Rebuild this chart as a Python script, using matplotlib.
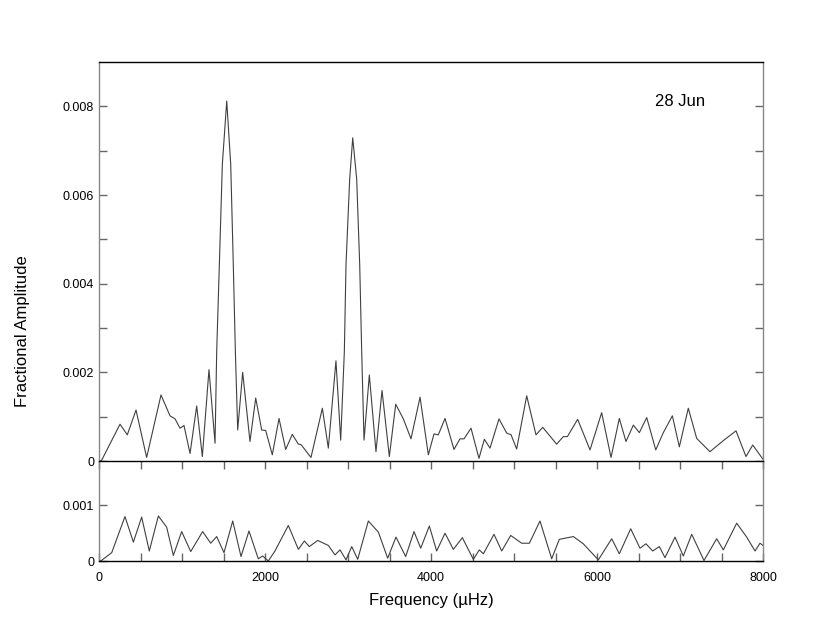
import matplotlib
matplotlib.use("Agg")
import matplotlib.pyplot as plt

plt.rcParams['font.family'] = ['Liberation Sans', 'DejaVu Sans']

# amplitude spectrum, 28 Jun
freq_top = [0, 30, 253, 341, 446, 574, 747, 855, 916, 976, 1024, 1097, 1177, 1245, 1325, 1398,
            1418, 1450, 1486, 1539, 1587, 1618, 1643, 1671, 1731, 1819, 1888, 1960, 2008, 2088,
            2169, 2249, 2329, 2402, 2434, 2554, 2691, 2763, 2855, 2912, 2956, 2976, 3020, 3057,
            3105, 3141, 3165, 3193, 3257, 3337, 3410, 3498, 3575, 3667, 3759, 3868, 3968, 4036,
            4088, 4169, 4277, 4349, 4398, 4482, 4578, 4643, 4711, 4819, 4912, 4965, 5032, 5153,
            5265, 5346, 5514, 5594, 5643, 5767, 5916, 6056, 6169, 6269, 6349, 6438, 6510, 6599,
            6708, 6799, 6908, 6992, 7100, 7201, 7361, 7522, 7675, 7795, 7876, 8000]
amp_top = [0.0, 0.00001, 0.00083, 0.00059, 0.00115, 0.00008, 0.00149, 0.00102, 0.00095, 0.00074,
           0.0008, 0.00017, 0.00124, 0.0001, 0.00206, 0.0004, 0.00247, 0.00443, 0.00669, 0.00812,
           0.00669, 0.00443, 0.00247, 0.0007, 0.002, 0.00044, 0.00142, 0.0007, 0.00069, 0.00014,
           0.00096, 0.00026, 0.0006, 0.00038, 0.00037, 0.00008, 0.00119, 0.00029, 0.00226, 0.00047,
           0.00247, 0.00443, 0.00635, 0.00729, 0.00635, 0.00443, 0.00247, 0.00047, 0.00194, 0.00021,
           0.00159, 0.0001, 0.00128, 0.00095, 0.0005, 0.00144, 0.00014, 0.00061, 0.00059, 0.00096,
           0.00026, 0.0005, 0.0005, 0.00074, 0.00006, 0.00049, 0.00029, 0.00095, 0.00063, 0.00059,
           0.00027, 0.00147, 0.00059, 0.00076, 0.00038, 0.00055, 0.00055, 0.00094, 0.00025, 0.00109,
           0.00008, 0.00096, 0.00044, 0.00081, 0.00064, 0.00098, 0.00025, 0.00064, 0.00102, 0.00032,
           0.00119, 0.00051, 0.00021, 0.00046, 0.00068, 0.0001, 0.00036, 0.00004]

# residual spectrum after prewhitening
freq_bot = [0, 30, 153, 313, 414, 514, 606, 715, 815, 896, 996, 1105, 1249, 1346, 1418, 1506,
            1611, 1711, 1807, 1919, 1972, 2040, 2120, 2281, 2402, 2474, 2534, 2635, 2763, 2843,
            2904, 2976, 3045, 3117, 3245, 3366, 3478, 3578, 3695, 3795, 3876, 3980, 4068, 4169,
            4269, 4378, 4510, 4582, 4631, 4759, 4852, 4960, 5093, 5185, 5313, 5454, 5546, 5715,
            5835, 6016, 6177, 6269, 6406, 6518, 6590, 6671, 6751, 6819, 6940, 7040, 7141, 7289,
            7442, 7522, 7683, 7804, 7904, 7964, 8000]
amp_bot = [0.0, 0.00001, 0.00015, 0.0008, 0.00034, 0.00079, 0.00018, 0.00081, 0.00061, 0.0001,
           0.00053, 0.00017, 0.00053, 0.00032, 0.00044, 0.00015, 0.00072, 0.00008, 0.00054, 0.00004,
           0.00009, 0.0, 0.00018, 0.00064, 0.00021, 0.00036, 0.00026, 0.00037, 0.00028, 0.00011,
           0.0002, 0.00002, 0.00026, 0.00003, 0.00072, 0.00052, 0.00005, 0.00043, 0.00008, 0.00053,
           0.00023, 0.00063, 0.00018, 0.0005, 0.00021, 0.00042, 0.00003, 0.0002, 0.00013, 0.00048,
           0.00018, 0.00046, 0.00032, 0.00032, 0.00072, 0.00004, 0.00039, 0.00044, 0.00031, 0.00002,
           0.0004, 0.00013, 0.00058, 0.00023, 0.00031, 0.00018, 0.00026, 0.00006, 0.00043, 0.00009,
           0.00048, 0.00001, 0.0004, 0.0002, 0.00068, 0.00043, 0.00018, 0.00032, 0.00028]

top_yticks = [0, 0.002, 0.004, 0.006, 0.008]
top_yticklabels = ['0', '0.002', '0.004', '0.006', '0.008']
top_yminor = [0.001, 0.003, 0.005, 0.007]
bot_yticks = [0, 0.001]
bot_yticklabels = ['0', '0.001']
xticks = [0, 2000, 4000, 6000, 8000]
xticklabels = ['0', '2000', '4000', '6000', '8000']
xminor = [500, 1000, 1500, 2500, 3000, 3500, 4500, 5000, 5500, 6500, 7000, 7500]

fig = plt.figure(figsize=(8.3, 6.23), dpi=100)
ax1 = fig.add_axes([99/830, 1-461/623, 664/830, 399/623])
ax2 = fig.add_axes([99/830, 1-561/623, 664/830, 100/623])

line_col = '#404040'
ax1.plot(freq_top, amp_top, color=line_col, lw=0.8, solid_joinstyle='round')
ax2.plot(freq_bot, amp_bot, color=line_col, lw=0.8, solid_joinstyle='round')

for ax in (ax1, ax2):
    ax.set_xlim(0, 8000)
    ax.spines['left'].set_color('#888888')
    ax.spines['right'].set_color('#888888')
    for s in ax.spines.values():
        s.set_linewidth(1.0)
    ax.tick_params(which='both', direction='in', length=6, width=1,
                   colors='#666666', labelcolor='black', labelsize=9,
                   left=True, right=True)

ax1.set_ylim(0, 0.009)
ax1.set_yticks(top_yticks, top_yticklabels)
ax1.set_yticks(top_yminor, minor=True)
ax1.set_xticks([])
ax1.spines['bottom'].set_visible(False)

ax2.set_ylim(0, 0.0018)
ax2.set_yticks(bot_yticks, bot_yticklabels)
ax2.set_xticks(xticks, xticklabels)
ax2.set_xticks(xminor, minor=True)
ax2.tick_params(axis='x', which='both', top=True, bottom=True, pad=8)

fig.text(22/830, 1-331/623, 'Fractional Amplitude', rotation=90, ha='center', va='center', fontsize=12)
fig.text(431/830, 1-601/623, 'Frequency (\u00b5Hz)', ha='center', va='center', fontsize=12)
fig.text(680/830, 1-101/623, '28 Jun', ha='center', va='center', fontsize=12)

fig.savefig('out.png', dpi=100)
